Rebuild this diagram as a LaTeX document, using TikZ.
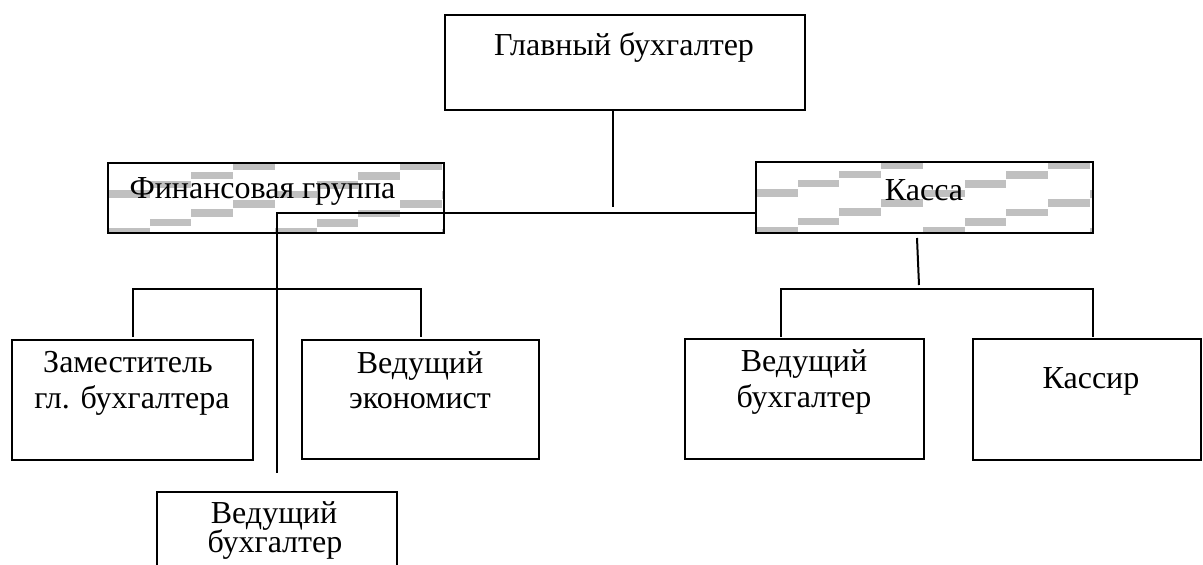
\documentclass[tikz,border=0pt]{standalone}
\usepackage{fontspec}
\setmainfont{Liberation Serif}
\usetikzlibrary{calc}
\definecolor{patgray}{RGB}{192,192,192}
\tikzset{
  box/.style={draw, line width=2.6pt, rectangle, inner sep=0pt},
  conn/.style={line width=2pt},
  lbl/.style={font=\fontsize{32}{37}\selectfont, inner sep=0pt, anchor=base},
}
\newcommand{\mkbox}[5]{%
  \node[box, minimum width={#4-#2}, minimum height={#5-#3}] (#1) at ({(#2+#4)/2},{(#3+#5)/2}) {};}
\newcommand{\patfill}[4]{%
  \begin{scope}
    \clip (#1,#2) rectangle (#3,#4);
    \foreach \i in {0,...,8}
      \foreach \k in {-1,...,3}
        \fill[patgray] ({#1+41.7*\i},{#2+27.3-9.33*\i+37.7*\k}) rectangle ++(41.7,7.5);
  \end{scope}}
\begin{document}
\begin{tikzpicture}[x=1pt,y=-1pt]
\useasboundingbox (0,0) rectangle (1203,565);
\clip (0,0) rectangle (1203,565);
% patterns
\patfill{108}{163}{444}{233}
\patfill{756}{162}{1093}{233}
% boxes
\mkbox{chief}{445}{15}{805}{110}
\mkbox{fin}{108}{163}{444}{233}
\mkbox{kassa}{756}{162}{1093}{233}
\mkbox{zam}{12}{340}{253}{460}
\mkbox{econ}{302}{340}{539}{459}
\mkbox{vbr}{685}{339}{924}{459}
\mkbox{kassir}{973}{339}{1201}{460}
\mkbox{vbb}{157}{492}{397}{620}
% texts
\node[lbl] (t1) at (624,55) {Главный бухгалтер};
\node[lbl] (t2) at (262.5,198) {Финансовая группа};
\node[lbl] (t3) at (924,200) {Касса};
\node[lbl] (t4a) at (128,372) {Заместитель};
\node[lbl] (t4b) at (132,408) {гл. бухгалтера};
\node[lbl] (t5a) at (420,373) {Ведущий};
\node[lbl] (t5b) at (420,408) {экономист};
\node[lbl] (t6a) at (804,371) {Ведущий};
\node[lbl] (t6b) at (804,407) {бухгалтер};
\node[lbl] (t7) at (1091,388) {Кассир};
\node[lbl] (t8a) at (274,523) {Ведущий};
\node[lbl] (t8b) at (275,552) {бухгалтер};
% connector points
\coordinate (cj) at (613,207);
\coordinate (hj) at (277,213);
\coordinate (fv) at (277,473);
\coordinate (fl) at (133,337);
\coordinate (fh) at (133,289);
\coordinate (fr) at (421,337);
\coordinate (kt) at (917,238);
\coordinate (kb) at (919,285);
\coordinate (kl) at (781,337);
\coordinate (kh) at (781,289);
\coordinate (kr) at (1093,337);
% connectors
\draw[conn] (chief.south -| cj) -- (cj);
\draw[conn] (kassa.west |- hj) -- (hj) -- (fv);
\draw[conn] (fl) -- (fh) -- (fh -| fr) -- (fr);
\draw[conn] (kt) -- (kb);
\draw[conn] (kl) -- (kh) -- (kh -| kr) -- (kr);
\end{tikzpicture}
\end{document}
